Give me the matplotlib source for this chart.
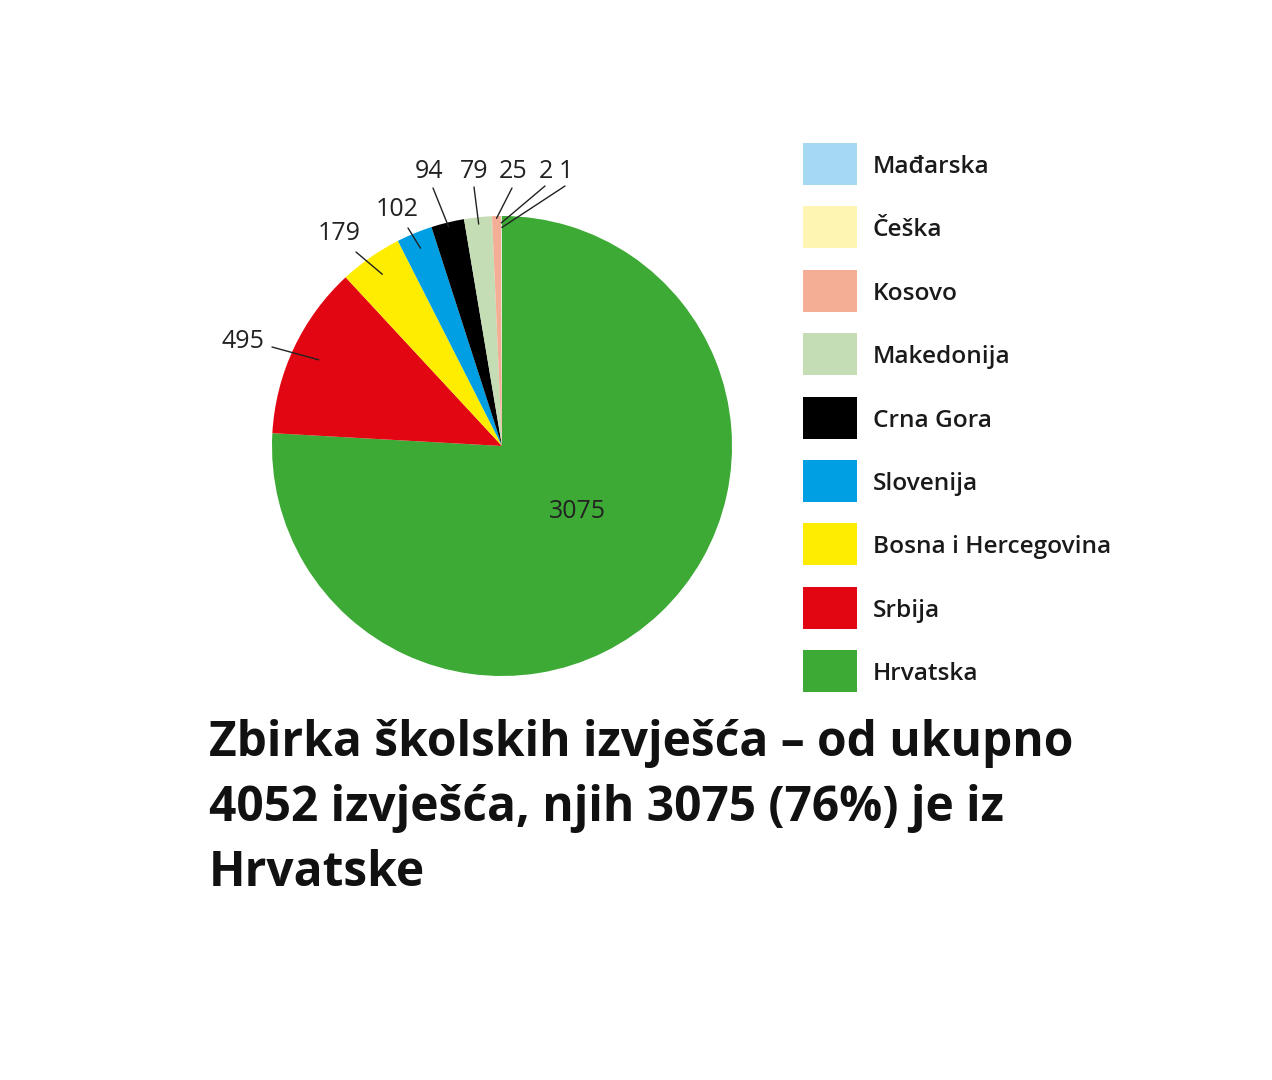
import numpy as np
import matplotlib
matplotlib.use("Agg")
import matplotlib.pyplot as plt
from matplotlib.patches import Rectangle

categories = ["Hrvatska", "Srbija", "Bosna i Hercegovina", "Slovenija", "Crna Gora",
              "Makedonija", "Kosovo", "Češka", "Mađarska"]
values = [3075, 495, 179, 102, 94, 79, 25, 2, 1]
colors = ["#3DAA35", "#E20613", "#FFED00", "#009FE3", "#000000",
          "#C5DDB5", "#F4AE95", "#FFF5B3", "#A5D8F3"]
title = "Zbirka školskih izvješća – od ukupno\n4052 izvješća, njih 3075 (76%) je iz\nHrvatske"

FONT = ["Open Sans", "DejaVu Sans"]
plt.rcParams["font.family"] = FONT

W, H = 1272, 1080
fig = plt.figure(figsize=(W / 100, H / 100), dpi=100)
fig.patch.set_facecolor("white")

cx, cy, R = 502, 446, 230
ax = fig.add_axes([(cx - R) / W, 1 - (cy + R) / H, 2 * R / W, 2 * R / H])
wedges, _ = ax.pie(values, colors=colors, startangle=90, counterclock=False,
                   radius=1, wedgeprops=dict(linewidth=0))
ax.set_xlim(-1, 1)
ax.set_ylim(-1, 1)
ax.axis("off")

# label positions (figure pixels, top-origin) and leader start radii
label_pos = [(577, 511), (243, 342), (339, 234), (397, 210), (429, 172),
             (474, 172), (513, 172), (546, 172), (566, 172)]
label_r = [None, 0.88, 0.91, 0.93, 0.98, 0.97, 0.99, 0.97, 0.95]
text_end = [None, (272, 347), (356, 252), (408, 228), (433, 188),
            (474, 187), (512, 188), (545, 186), (565, 186)]

for i, w in enumerate(wedges):
    lx, ly = label_pos[i]
    fig.text(lx / W, 1 - ly / H, str(values[i]), fontsize=18, ha="center",
             va="center", color="#222222")
    if i == 0:
        continue
    ang = np.deg2rad((w.theta1 + w.theta2) / 2)
    r = label_r[i]
    xy = (r * np.cos(ang), r * np.sin(ang))
    ex, ey = text_end[i]
    ax.annotate("", xy=xy, xycoords="data",
                xytext=(ex, H - ey), textcoords="figure pixels",
                arrowprops=dict(arrowstyle="-", color="#222222", lw=1.0,
                                shrinkA=0, shrinkB=0))

# legend
row0, step = 164, 63.4
for j, idx in enumerate(range(len(categories) - 1, -1, -1)):
    yc = row0 + j * step
    fig.patches.append(Rectangle((803 / W, 1 - (yc + 21) / H), 54 / W, 42 / H,
                                 transform=fig.transFigure, facecolor=colors[idx],
                                 edgecolor="none"))
    fig.text(873 / W, 1 - (yc + 3) / H, categories[idx], fontsize=17.6,
             fontweight="semibold", ha="left", va="center", color="#1a1a1a")

fig.text(209 / W, 1 - 719 / H, title, fontsize=34.5, fontweight="bold", ha="left",
         va="top", color="#111111", linespacing=1.43)

fig.savefig("out.png", dpi=100, facecolor="white")
